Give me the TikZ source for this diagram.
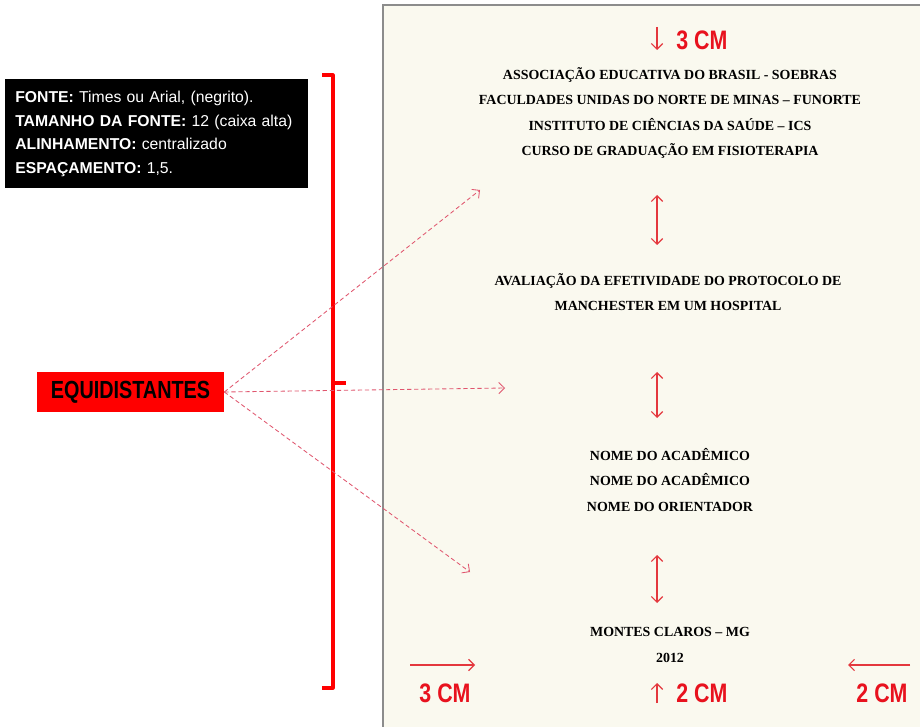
\documentclass[tikz,border=0pt]{standalone}
\usepackage{fontspec}
\setmainfont{Liberation Serif}
\newfontfamily\arialfont{Liberation Sans}
\newfontfamily\narrowfont[FakeStretch=0.8]{Liberation Sans}
\usetikzlibrary{positioning,arrows.meta}

\definecolor{pagecream}{HTML}{FAF9EF}
\definecolor{pageedge}{HTML}{8C8C8C}
\definecolor{markred}{HTML}{E4383E}
\definecolor{dashred}{HTML}{E0566E}
\definecolor{cmred}{HTML}{E8121E}

\tikzset{
  cmtext/.style={text=cmred, inner sep=0pt, font=\narrowfont\bfseries\fontsize{19}{19}\selectfont},
  pagetext/.style={align=center, inner sep=0pt, font=\bfseries\fontsize{9.9}{18}\selectfont},
  gaparrow/.style={markred, line width=0.85pt, {Straight Barb[length=4pt,width=8pt]}-{Straight Barb[length=4pt,width=8pt]}},
  markarrow/.style={markred, line width=0.85pt, -{Straight Barb[length=4pt,width=8pt]}},
  dasharrow/.style={dashred, line width=0.6pt, dash pattern=on 3pt off 2pt, -{Straight Barb[length=4pt,width=8pt]}}
}

\begin{document}
\begin{tikzpicture}[x=0.025cm, y=-0.025cm]
      \useasboundingbox (0,0) rectangle (920,727);
      \clip (0,0) rectangle (920,727);
      \fill[white] (0,0) rectangle (920,727);

      % the sheet of paper
      \filldraw[fill=pagecream, draw=pageedge, line width=1.2pt] (383,5) rectangle (940,760);

      % box with the rules for the cover
      \node[fill=black, text=white, anchor=north west, minimum width=7.575cm, minimum height=2.725cm,
            text width=7.075cm, align=left, inner xsep=0.25cm,
            font=\arialfont\fontsize{11.2}{16.7}\selectfont] (rules) at (5,79)
            {\textbf{FONTE:} Times ou Arial, (negrito).\\
             \textbf{TAMANHO DA FONTE:} 12 (caixa alta)\\
             \textbf{ALINHAMENTO:} centralizado\\
             \textbf{ESPAÇAMENTO:} 1,5.};

      % red bracket
      \draw[red, line width=2.2pt, line join=round] (322,75) -- (333,75) -- (333,688) -- (322,688);
      \draw[red, line width=2.2pt] (333,383) -- (346,383);

      % label and its pointers
      \node[fill=red, minimum width=4.675cm, minimum height=1cm, inner sep=0pt,
            font=\narrowfont\bfseries\fontsize{17.6}{17.6}\selectfont] (equi) at (130.5,392) {EQUIDISTANTES};
      \coordinate (gapone) at (480,190);
      \coordinate (gaptwo) at (505,388);
      \coordinate (gapthree) at (470,572);
      \draw[dasharrow] (equi.east) -- (gapone);
      \draw[dasharrow] (equi.east) -- (gaptwo);
      \draw[dasharrow] (equi.east) -- (gapthree);

      % top margin
      \coordinate (topa) at (657,27);
      \coordinate (topb) at (657,50);
      \draw[markarrow] (topa) -- (topb);
      \node[cmtext, anchor=west] (topcm) at (676,40) {3 CM};

      % texts on the sheet
      \node[pagetext] (inst) at (670,113)
            {ASSOCIAÇÃO  EDUCATIVA  DO BRASIL - SOEBRAS\\
             FACULDADES UNIDAS DO NORTE DE MINAS – FUNORTE\\
             INSTITUTO DE CIÊNCIAS  DA SAÚDE – ICS\\
             CURSO DE GRADUAÇÃO  EM FISIOTERAPIA};
      \node[pagetext] (title) at (668,292)
            {AVALIAÇÃO DA EFETIVIDADE  DO PROTOCOLO DE\\
             MANCHESTER EM UM HOSPITAL};
      \node[pagetext] (names) at (670,480)
            {NOME DO ACADÊMICO\\
             NOME DO ACADÊMICO\\
             NOME DO ORIENTADOR};
      \node[pagetext] (city) at (670,645)
            {MONTES CLAROS – MG\\
             2012};

      % equal gaps between the blocks
      \draw[gaparrow] (657,195) -- (657,245);
      \draw[gaparrow] (657,372) -- (657,418);
      \draw[gaparrow] (657,555) -- (657,603);

      % left, bottom and right margins
      \draw[markarrow] (410,665) -- (475,665);
      \node[cmtext] (leftcm) at (445,693) {3 CM};
      \draw[markarrow] (657,703) -- (657,683);
      \node[cmtext, anchor=west] (bottomcm) at (676,693) {2 CM};
      \draw[markarrow] (910,665) -- (848,665);
      \node[cmtext] (rightcm) at (882,693) {2 CM};
\end{tikzpicture}
\end{document}
